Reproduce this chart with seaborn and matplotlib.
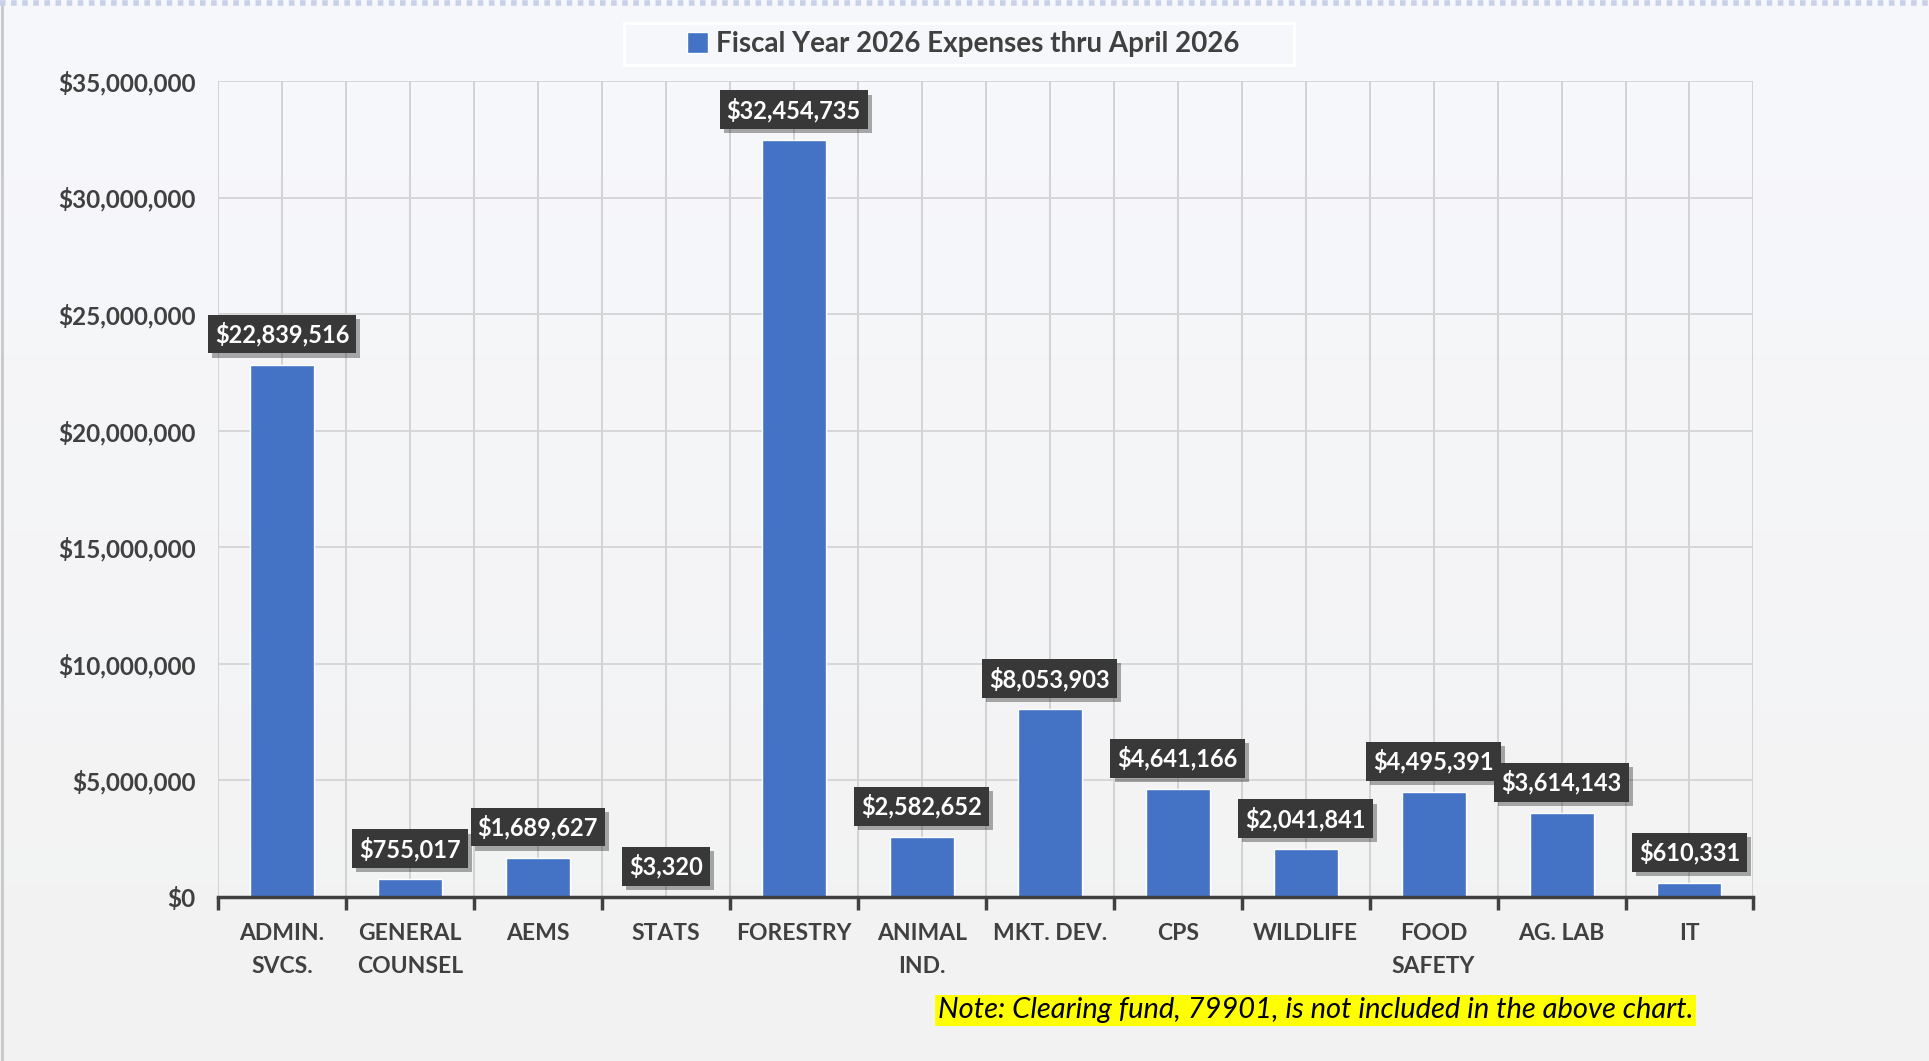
import numpy as np
import pandas as pd
import seaborn as sns
import matplotlib.pyplot as plt
import matplotlib.patheffects as pe
from matplotlib.patches import Rectangle
from matplotlib.colors import LinearSegmentedColormap
from matplotlib.ticker import FuncFormatter, MultipleLocator, FixedLocator

divisions = ["ADMIN.\nSVCS.", "GENERAL\nCOUNSEL", "AEMS", "STATS", "FORESTRY",
             "ANIMAL\nIND.", "MKT. DEV.", "CPS", "WILDLIFE", "FOOD\nSAFETY",
             "AG. LAB", "IT"]
expenses = [22839516, 755017, 1689627, 3320, 32454735, 2582652,
            8053903, 4641166, 2041841, 4495391, 3614143, 610331]
series_name = "Fiscal Year 2026 Expenses thru April 2026"
note = "Note: Clearing fund, 79901, is not included in the above chart."

df = pd.DataFrame({"division": divisions, "expenses": expenses, "series": series_name})

sns.set_style("white")
plt.rcParams['font.family'] = ['Lato', 'DejaVu Sans']
text_color = "#404040"
bar_color = "#4472C4"

fig = plt.figure(figsize=(19.29, 10.61), dpi=100, facecolor="#f4f5f8")

# soft vertical background gradient
bg = fig.add_axes([0, 0, 1, 1], zorder=-10)
bg_cmap = LinearSegmentedColormap.from_list("bg", ["#f2f2f2", "#f7f8fc"])
bg.imshow(np.linspace(0, 1, 256).reshape(-1, 1), cmap=bg_cmap, aspect="auto",
          origin="lower", extent=(0, 1, 0, 1))
bg.axis("off")

ax = fig.add_axes([0.113, 0.1546, 0.796, 0.769])
ax.set_facecolor("none")

sns.barplot(data=df, x="division", y="expenses", hue="series", palette=[bar_color],
            width=0.5, ax=ax, zorder=3, saturation=1)

ax.set_ylim(0, 35000000)
ax.set_xlim(-0.5, len(divisions) - 0.5)
ax.yaxis.set_major_locator(MultipleLocator(5000000))
ax.yaxis.set_major_formatter(FuncFormatter(lambda v, p: f"${v:,.0f}"))

# grid: horizontal at majors, vertical at category centres and boundaries
ax.grid(axis="y", color="#d4d4d4", lw=1.3, zorder=0)
for x in np.arange(-0.5, len(divisions), 0.5):
    ax.axvline(x, color="#d0d0d0", lw=1.3, zorder=0)

for s in ["top", "right", "left"]:
    ax.spines[s].set_visible(False)
ax.spines["bottom"].set_color("#404040")
ax.spines["bottom"].set_linewidth(2.5)
ax.spines["bottom"].set_zorder(4)

ax.set_xlabel("")
ax.set_ylabel("")
ax.tick_params(axis="x", length=0, pad=19, labelsize=16.5, labelcolor=text_color)
ax.tick_params(axis="y", length=0, pad=16, labelsize=17.5, labelcolor=text_color)
ax.xaxis.set_minor_locator(FixedLocator(np.arange(-0.5, len(divisions), 1.0)))
ax.tick_params(axis="x", which="minor", bottom=True, length=9, width=2.5,
               color="#404040", direction="out")
for lab in ax.get_xticklabels() + ax.get_yticklabels():
    lab.set_fontweight("bold")
    lab.set_linespacing(1.7)

# value labels
for i, v in enumerate(expenses):
    t = ax.annotate(f"${v:,.0f}", xy=(i, v), xytext=(0, 22), textcoords="offset points",
                    ha="center", va="center", color="white", fontsize=17, fontweight="bold",
                    bbox=dict(boxstyle="square,pad=0.3", fc="#383838", ec="none"), zorder=6)
    t.get_bbox_patch().set_path_effects([pe.SimplePatchShadow(offset=(3, -3), alpha=0.35), pe.Normal()])

# legend at top (frame drawn separately, behind the axes)
fig.patches.append(Rectangle((0.3233, 0.9385), 0.3476, 0.0395, transform=fig.transFigure,
                             fc="#f6f7fb", ec="white", lw=2, zorder=-5))
leg = ax.legend(loc="center", bbox_to_anchor=(0.4994, 0.9582), bbox_transform=fig.transFigure,
                frameon=False, fontsize=20, handlelength=0.75, handleheight=0.75,
                handletextpad=0.3, borderpad=0.1)
for txt in leg.get_texts():
    txt.set_fontweight("bold")
    txt.set_color(text_color)

fig.text(0.682, 0.0476, note, ha="center", va="center", fontsize=21, style="italic",
         color="black", bbox=dict(boxstyle="square,pad=0.1", fc="#ffff00", ec="none"))

# outer frame bits
fig.add_artist(plt.Line2D([0, 1], [0.997, 0.997], transform=fig.transFigure,
                          color="#c8d0ea", lw=4, ls=(0, (1, 1))))
fig.add_artist(plt.Line2D([0.001, 0.001], [0, 0.994], transform=fig.transFigure,
                          color="#c8c8c8", lw=2))

fig.savefig("out.png", dpi=100, facecolor=fig.get_facecolor())
